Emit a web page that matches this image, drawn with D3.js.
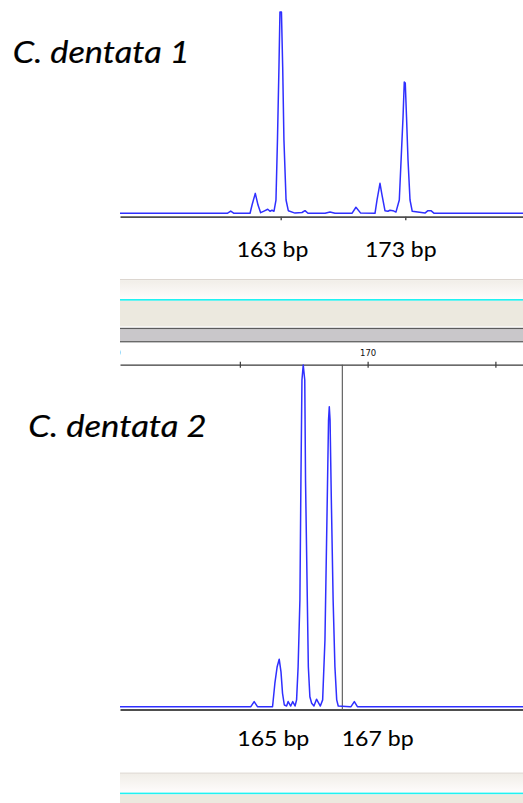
<!DOCTYPE html>
<html><head><meta charset="utf-8">
<script src="https://cdn.jsdelivr.net/npm/d3@7"></script>
<style>html,body{margin:0;padding:0;background:#fff;}svg{display:block;}</style>
</head><body>
<svg id="c" width="523" height="803"></svg>
<script>
// ---- data ----
const sampleNames = ["C. dentata 1", "C. dentata 2"];
const topAlleleLabels = ["163 bp", "173 bp"];
const bottomAlleleLabels = ["165 bp", "167 bp"];
const topAxisTicks = [163, 173];
const rulerTicks = [160, 165, 170, 175];
const cursorSize = [169.01];

const topSize = [150.10,158.71,158.99,159.25,160.54,160.70,160.96,161.18,161.39,161.66,161.96,162.14,162.30,162.46,162.62,162.74,162.86,162.94,163.06,163.16,163.26,163.43,163.61,164.15,164.71,164.95,165.19,166.56,166.96,167.36,168.72,169.04,169.42,170.57,170.73,170.97,171.13,171.37,171.61,171.77,172.01,172.25,172.52,172.70,172.82,172.92,173.00,173.10,173.22,173.38,173.56,174.58,174.82,175.06,175.32,182.45];
const topSignal = [0,0,11,0,0,41,99,41,3,11,20,10,15,10,66,364,727,1000,1000,727,364,66,13,1,4,13,0,0,6,0,0,30,1,0,66,149,91,13,10,15,13,6,66,314,478,652,647,478,265,66,10,1,13,13,0,0];

const bottomSize = [160.31,165.40,165.43,165.56,165.69,166.28,166.37,166.46,166.54,166.61,166.67,166.74,166.83,166.89,166.99,167.07,167.16,167.22,167.28,167.35,167.39,167.43,167.48,167.54,167.57,167.64,167.68,167.74,167.81,167.90,168.00,168.09,168.15,168.24,168.33,168.42,168.47,168.50,168.53,168.58,168.65,168.72,168.79,168.85,169.31,169.35,169.48,169.60,176.08];
const bottomSignal = [0,0,0,15,0,0,68,117,139,102,39,5,2,15,2,15,2,20,117,312,663,956,1000,956,663,312,117,29,10,2,22,10,2,20,195,605,839,878,839,605,312,117,20,2,0,0,15,0,0];

// ---- drawing ----
const svg = d3.select("#c");
const defs = svg.append("defs");
defs.append("clipPath").attr("id","clipTop").append("rect").attr("x",120).attr("y",0).attr("width",403).attr("height",216);
defs.append("clipPath").attr("id","clipBot").append("rect").attr("x",120).attr("y",364).attr("width",403).attr("height",345);
defs.append("clipPath").attr("id","clipRuler").append("rect").attr("x",120).attr("y",340).attr("width",403).attr("height",30);
const g1 = defs.append("linearGradient").attr("id","lightband").attr("x1",0).attr("y1",0).attr("x2",0).attr("y2",1);
g1.append("stop").attr("offset","0%").attr("stop-color","#f1eee8");
g1.append("stop").attr("offset","100%").attr("stop-color","#fefcfc");

const xTop = d3.scaleLinear().domain([150.1, 182.45]).range([120, 523]);
const yTop = d3.scaleLinear().domain([0, 1000]).range([213.3, 12]);
const xBot = d3.scaleLinear().domain([160.31, 176.08]).range([120, 523]);
const yBot = d3.scaleLinear().domain([0, 1000]).range([706.7, 365]);

// top axis
const topAxis = svg.append("g").attr("transform","translate(0,216.7)")
  .call(d3.axisBottom(xTop).tickValues(topAxisTicks).tickSizeInner(3.5).tickSizeOuter(0).tickFormat(""));
topAxis.select(".domain").attr("stroke","#4e4e4e").attr("stroke-width",1.8);
topAxis.selectAll(".tick line").attr("stroke","#4a4a4a").attr("stroke-width",1.4);

// top trace
const lineTop = d3.line().x((d,i)=>xTop(topSize[i])).y((d,i)=>yTop(topSignal[i]));
svg.append("path").attr("clip-path","url(#clipTop)").attr("d", lineTop(topSize))
  .attr("fill","none").attr("stroke","#2f2fff").attr("stroke-width",1.5).attr("stroke-linejoin","round");

// labels
const fam = "Lato, 'Open Sans', sans-serif";
svg.append("text").attr("x",12.7).attr("y",63).attr("font-family",fam).attr("font-style","italic")
  .attr("font-size",31.5).attr("textLength",177).attr("lengthAdjust","spacingAndGlyphs")
  .attr("fill","#000").attr("stroke","#000").attr("stroke-width",0.2).text(sampleNames[0]);
svg.append("text").attr("x",28.3).attr("y",436.7).attr("font-family",fam).attr("font-style","italic")
  .attr("font-size",31.5).attr("textLength",178.4).attr("lengthAdjust","spacingAndGlyphs")
  .attr("fill","#000").attr("stroke","#000").attr("stroke-width",0.2).text(sampleNames[1]);

const allelePos = [[236.7,256.7],[365,256.7]];
topAlleleLabels.forEach((t,i)=>{
  svg.append("text").attr("x",allelePos[i][0]).attr("y",allelePos[i][1]).attr("font-family",fam)
    .attr("font-size",20.3).attr("textLength",71.6).attr("lengthAdjust","spacingAndGlyphs")
    .attr("fill","#000").attr("stroke","#000").attr("stroke-width",0.05).text(t);
});
const allelePos2 = [[237.3,746],[341.7,746]];
bottomAlleleLabels.forEach((t,i)=>{
  svg.append("text").attr("x",allelePos2[i][0]).attr("y",allelePos2[i][1]).attr("font-family",fam)
    .attr("font-size",20.3).attr("textLength",72).attr("lengthAdjust","spacingAndGlyphs")
    .attr("fill","#000").attr("stroke","#000").attr("stroke-width",0.05).text(t);
});

// window bands
function bands(top, withLower){
  svg.append("rect").attr("x",120).attr("y",top).attr("width",403).attr("height",1.2).attr("fill","#dcd6d0");
  svg.append("rect").attr("x",120).attr("y",top+1.2).attr("width",403).attr("height",18.8).attr("fill","url(#lightband)");
  svg.append("rect").attr("x",120).attr("y",top+20).attr("width",403).attr("height",1.8).attr("fill","#1ff2f2");
  svg.append("rect").attr("x",120).attr("y",top+21.8).attr("width",403).attr("height",withLower?25.6:40).attr("fill","#ece9df");
  if(withLower){
    svg.append("rect").attr("x",120).attr("y",top+48.8).attr("width",403).attr("height",1.6).attr("fill","#5c5c5c");
    svg.append("rect").attr("x",120).attr("y",top+50.4).attr("width",403).attr("height",11.6).attr("fill","#c9c7ca");
    svg.append("rect").attr("x",120).attr("y",top+62).attr("width",403).attr("height",1.4).attr("fill","#6a6a6a");
  }
}
bands(279, true);
bands(772.6, false);

// ruler
const ruler = svg.append("g").attr("clip-path","url(#clipRuler)").append("g").attr("transform","translate(0,364.7)")
  .call(d3.axisTop(xBot).tickValues(rulerTicks).tickSizeInner(3).tickSizeOuter(0).tickPadding(7)
    .tickFormat(d => d % 10 === 0 ? String(d) : ""));
ruler.select(".domain").attr("stroke","#3a3a3a").attr("stroke-width",1.3);
ruler.selectAll(".tick line").attr("y1",3).attr("y2",-3).attr("stroke","#3a3a3a").attr("stroke-width",1.2);
ruler.selectAll(".tick text").attr("font-family","'DejaVu Sans', sans-serif").attr("font-size",8.5).attr("fill","#111").attr("dy","0.1em");

// bottom axis line
const botAxis = svg.append("g").attr("transform","translate(0,709.5)")
  .call(d3.axisBottom(xBot).tickValues([]).tickSizeOuter(0));
botAxis.select(".domain").attr("stroke","#4e4e4e").attr("stroke-width",1.8);

// cursor
svg.selectAll("line.cursor").data(cursorSize).enter().append("line").attr("class","cursor")
  .attr("x1",d=>xBot(d)).attr("x2",d=>xBot(d)).attr("y1",364.7).attr("y2",710)
  .attr("stroke","#555").attr("stroke-width",1.1);

// bottom trace
const lineBot = d3.line().x((d,i)=>xBot(bottomSize[i])).y((d,i)=>yBot(bottomSignal[i]));
svg.append("path").attr("clip-path","url(#clipBot)").attr("d", lineBot(bottomSize))
  .attr("fill","none").attr("stroke","#2f2fff").attr("stroke-width",1.5).attr("stroke-linejoin","round");
</script>
</body></html>
